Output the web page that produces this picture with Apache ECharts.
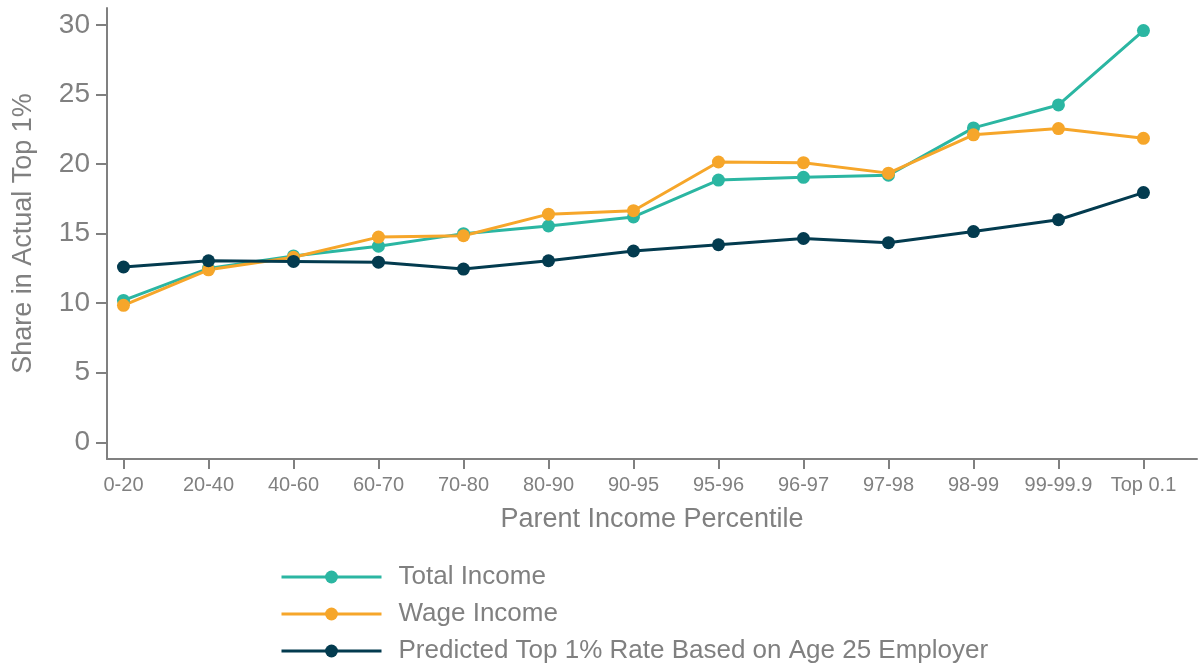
<!DOCTYPE html>
<html>
<head>
<meta charset="utf-8">
<script src="https://cdn.jsdelivr.net/npm/echarts@6/dist/echarts.min.js"></script>
<style>
  html, body { margin: 0; padding: 0; background: #fff; }
  #chart { width: 1199px; height: 669px; }
</style>
</head>
<body>
<div id="chart"></div>
<script>
// Parent income percentile groups
const categories = ['0-20', '20-40', '40-60', '60-70', '70-80', '80-90', '90-95',
  '95-96', '96-97', '97-98', '98-99', '99-99.9', 'Top 0.1'];

// Share of children reaching the actual top 1%
const totalIncome = [10.2, 12.5, 13.4, 14.1, 15.0, 15.55, 16.2, 18.85, 19.05, 19.2, 22.6, 24.25, 29.6];
const wageIncome  = [9.85, 12.4, 13.3, 14.75, 14.85, 16.4, 16.65, 20.15, 20.1, 19.35, 22.1, 22.55, 21.85];
const predicted   = [12.6, 13.05, 13.0, 12.95, 12.45, 13.05, 13.75, 14.2, 14.65, 14.35, 15.15, 16.0, 17.95];

const yTicks = [0, 5, 10, 15, 20, 25, 30];

const gray = '#808080';
const font = 'Liberation Sans, Arial, Helvetica, sans-serif';

function pairs(values) {
  return values.map((v, i) => [i, v]);
}

function lineSeries(name, values, color) {
  return {
    name: name,
    type: 'line',
    data: pairs(values),
    symbol: 'circle',
    symbolSize: 13,
    lineStyle: { width: 3, color: color },
    itemStyle: { color: color },
    emphasis: { disabled: true }
  };
}

const chart = echarts.init(document.getElementById('chart'), null, { renderer: 'canvas' });

chart.setOption({
  animation: false,
  backgroundColor: '#ffffff',
  textStyle: { fontFamily: font },
  grid: { left: 107, right: 2, top: 8, bottom: 210 },
  xAxis: {
    type: 'value',
    min: -0.194,
    max: 12.63,
    name: 'Parent Income Percentile',
    nameLocation: 'middle',
    nameGap: 47,
    nameTextStyle: { color: gray, fontSize: 27, fontFamily: font },
    axisLine: { show: true, onZero: false, lineStyle: { color: gray, width: 2 } },
    axisTick: { show: true, length: 10, lineStyle: { color: gray, width: 2 },
      customValues: categories.map((c, i) => i) },
    axisLabel: { color: gray, fontSize: 20, margin: 16, fontFamily: font,
      customValues: categories.map((c, i) => i),
      formatter: v => categories[Math.round(v)] },
    splitLine: { show: false }
  },
  yAxis: {
    type: 'value',
    min: -1.2,
    max: 31.22,
    name: 'Share in Actual Top 1%',
    nameLocation: 'middle',
    nameGap: 70,
    nameTextStyle: { color: gray, fontSize: 27, fontFamily: font },
    axisLine: { show: true, onZero: false, lineStyle: { color: gray, width: 2 } },
    axisTick: { show: true, length: 11, lineStyle: { color: gray, width: 2 },
      customValues: yTicks },
    axisLabel: { color: gray, fontSize: 28, margin: 17, fontFamily: font,
      customValues: yTicks },
    splitLine: { show: false }
  },
  legend: {
    orient: 'vertical',
    left: 280,
    top: 564,
    padding: 0,
    itemWidth: 100,
    itemHeight: 16,
    itemGap: 11,
    lineStyle: { width: 3 },
    textStyle: { color: gray, fontSize: 26, fontFamily: font, padding: [0, 0, 0, 12] },
    data: ['Total Income', 'Wage Income', 'Predicted Top 1% Rate Based on Age 25 Employer']
  },
  series: [
    lineSeries('Total Income', totalIncome, '#2bb6a2'),
    lineSeries('Wage Income', wageIncome, '#f6a62a'),
    lineSeries('Predicted Top 1% Rate Based on Age 25 Employer', predicted, '#033b4f')
  ]
});
</script>
</body>
</html>
